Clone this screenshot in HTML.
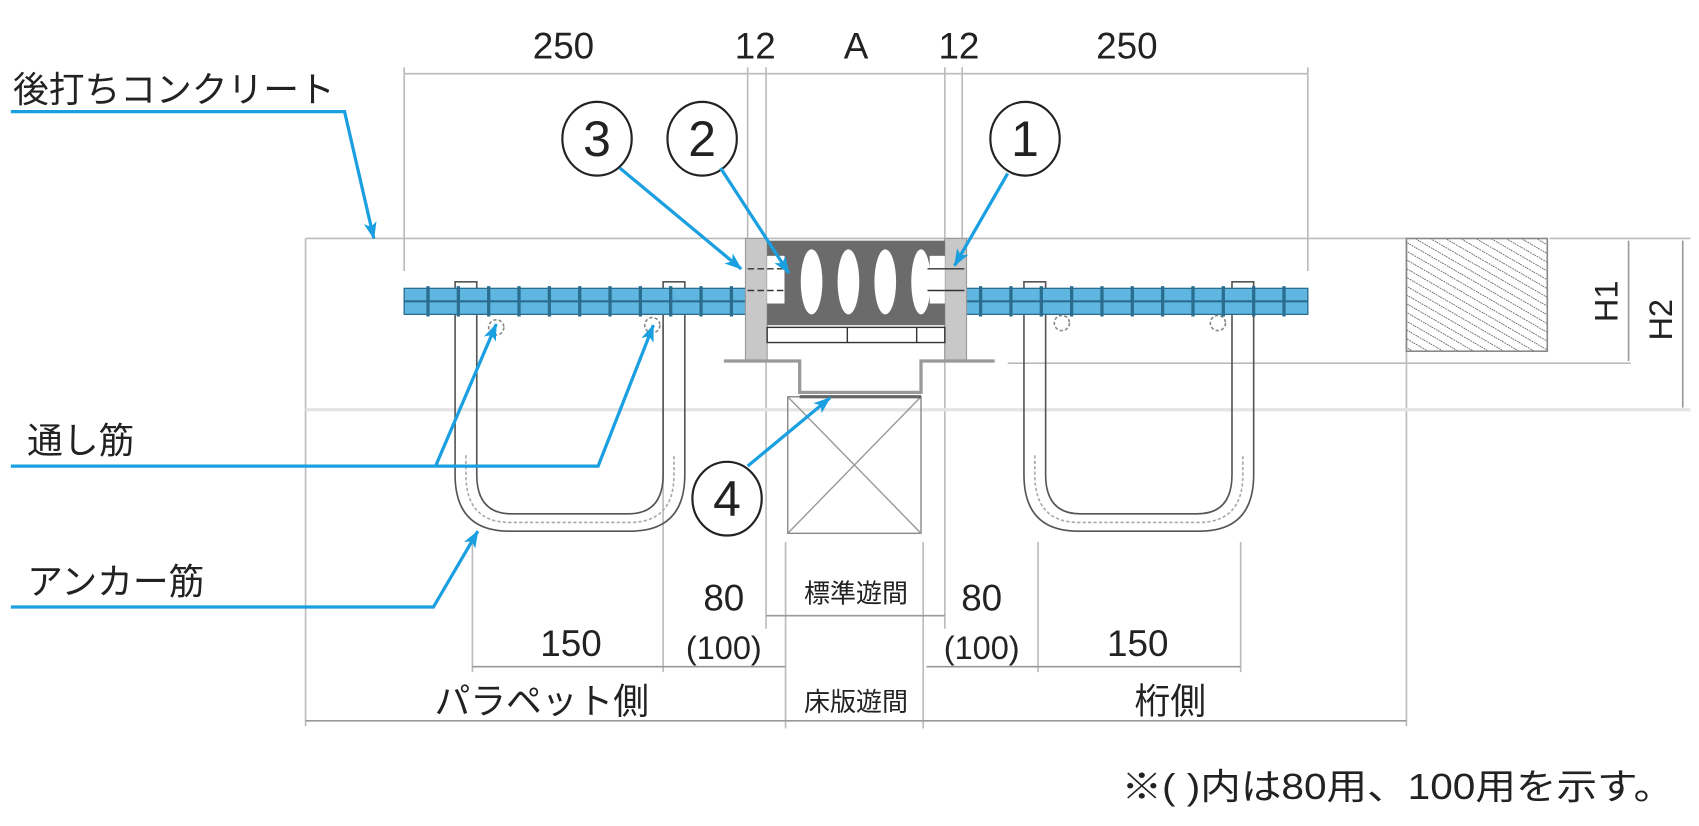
<!DOCTYPE html>
<html><head><meta charset="utf-8"><style>
html,body{margin:0;padding:0;background:#fff}
svg{display:block}
text{font-family:"Liberation Sans","Noto Sans CJK JP",sans-serif;fill:#222}
</style></head><body>
<svg width="1699" height="826" viewBox="0 0 1568 762" preserveAspectRatio="none" xmlns="http://www.w3.org/2000/svg">
<defs>
<pattern id="h" width="7" height="7" patternUnits="userSpaceOnUse" patternTransform="rotate(-60)">
<line x1="0" y1="0" x2="0" y2="7" stroke="#555" stroke-width="1.6" stroke-dasharray="1.5 1"/>
</pattern>
<marker id="ar" markerWidth="16" markerHeight="14" refX="15" refY="7" orient="auto" markerUnits="userSpaceOnUse"><path d="M0,1 L16,7 L0,13 L4,7 z" fill="#1a9fe0"/></marker>
</defs>
<g stroke="#bbb" stroke-width="1.5" fill="none">
<line x1="373" y1="68" x2="1207" y2="68"/>
<line x1="373" y1="62" x2="373" y2="250"/>
<line x1="690" y1="62" x2="690" y2="220"/>
<line x1="707" y1="62" x2="707" y2="580"/>
<line x1="872" y1="62" x2="872" y2="580"/>
<line x1="888" y1="62" x2="888" y2="220"/>
<line x1="1207" y1="62" x2="1207" y2="250"/>
<line x1="282" y1="220" x2="1298" y2="220"/>
<line x1="282" y1="220" x2="282" y2="670"/>
<line x1="1298" y1="220" x2="1298" y2="670"/>
<line x1="282" y1="378" x2="1560" y2="378" stroke="#e4e4e4" stroke-width="3"/>
<line x1="930" y1="335" x2="1505" y2="335"/>
<line x1="1430" y1="220" x2="1560" y2="220"/>
<line x1="1503" y1="222" x2="1503" y2="333" stroke="#999"/>
<line x1="1553" y1="222" x2="1553" y2="376" stroke="#999"/>
<line x1="436" y1="500" x2="436" y2="620"/>
<line x1="612" y1="300" x2="612" y2="620"/>
<line x1="725" y1="500" x2="725" y2="672"/>
<line x1="852" y1="500" x2="852" y2="672"/>
<line x1="958" y1="500" x2="958" y2="620"/>
<line x1="1145" y1="500" x2="1145" y2="620"/>
<line x1="707" y1="568" x2="872" y2="568" stroke="#999"/>
<line x1="436" y1="615" x2="725" y2="615" stroke="#999"/>
<line x1="855" y1="615" x2="1145" y2="615" stroke="#999"/>
<line x1="282" y1="665" x2="1298" y2="665" stroke="#999"/>
</g>
<rect x="1298" y="220" width="130" height="104" fill="url(#h)" stroke="#888" stroke-width="1.5"/>
<g fill="none" stroke="#555" stroke-width="1.5">
<path d="M420,260 V438 Q420,490 470,490 H582 Q632,490 632,438 V260 H612 V438 Q612,474 580,474 H472 Q440,474 440,438 V260 Z"/>
<path d="M945,260 V438 Q945,490 995,490 H1107 Q1157,490 1157,438 V260 H1137 V438 Q1137,474 1105,474 H997 Q965,474 965,438 V260 Z"/>
<path d="M430,420 V438 Q430,482 471,482 H581 Q622,482 622,438 V420" stroke="#aaa" stroke-dasharray="3 2"/>
<path d="M955,420 V438 Q955,482 996,482 H1106 Q1147,482 1147,438 V420" stroke="#aaa" stroke-dasharray="3 2"/>
<circle cx="458" cy="302" r="7" stroke="#888" stroke-dasharray="3 2"/>
<circle cx="602" cy="300" r="7" stroke="#888" stroke-dasharray="3 2"/>
<circle cx="980" cy="298" r="7" stroke="#888" stroke-dasharray="3 2"/>
<circle cx="1124" cy="298" r="7" stroke="#888" stroke-dasharray="3 2"/>
</g>
<g>
<rect x="373" y="266" width="317" height="24" fill="#5fb6e0" stroke="#2a6d8f" stroke-width="1.2"/>
<rect x="890" y="266" width="317" height="24" fill="#5fb6e0" stroke="#2a6d8f" stroke-width="1.2"/>
<line x1="373" y1="278" x2="690" y2="278" stroke="#2a6d8f" stroke-width="2"/>
<line x1="890" y1="278" x2="1207" y2="278" stroke="#2a6d8f" stroke-width="2"/>
<g stroke="#2a6d8f" stroke-width="3">
<path d="M395,264V292M423,264V292M451,264V292M479,264V292M507,264V292M535,264V292M563,264V292M591,264V292M619,264V292M647,264V292M675,264V292"/>
<path d="M905,264V292M933,264V292M961,264V292M989,264V292M1017,264V292M1045,264V292M1073,264V292M1101,264V292M1129,264V292M1157,264V292M1185,264V292"/>
</g>
</g>
<rect x="688" y="220" width="20" height="113" fill="#c8c8c8" stroke="#999"/>
<rect x="872" y="220" width="20" height="113" fill="#c8c8c8" stroke="#999"/>
<rect x="708" y="222" width="164" height="78" fill="#6b6b6b"/>
<g fill="#fff">
<ellipse cx="749" cy="260" rx="10" ry="30"/><ellipse cx="783" cy="260" rx="10" ry="30"/>
<ellipse cx="817" cy="260" rx="10" ry="30"/><ellipse cx="850" cy="260" rx="9" ry="30"/>
<rect x="708" y="236" width="16" height="44"/><rect x="858" y="236" width="14" height="44"/>
</g>
<g stroke="#333" stroke-width="1.3" fill="none">
<line x1="690" y1="248" x2="724" y2="248" stroke-dasharray="6 3"/><line x1="690" y1="268" x2="724" y2="268" stroke-dasharray="6 3"/>
<line x1="856" y1="248" x2="890" y2="248"/><line x1="856" y1="268" x2="890" y2="268"/>
<rect x="708" y="302" width="164" height="14"/>
<line x1="782" y1="302" x2="782" y2="316"/><line x1="846" y1="302" x2="846" y2="316"/>
<path d="M668,333 H738 V362 H850 V333 H918" stroke="#999" stroke-width="3"/>
<rect x="727" y="366" width="123" height="126" stroke="#888"/>
<path d="M727,366 L850,492 M850,366 L727,492" stroke="#999"/>
<line x1="738" y1="366" x2="850" y2="366" stroke="#666" stroke-width="3"/>
</g>
<g fill="#fff" stroke="#222" stroke-width="2">
<ellipse cx="551" cy="128" rx="32" ry="34"/><ellipse cx="648" cy="128" rx="32" ry="34"/>
<ellipse cx="946" cy="128" rx="32" ry="34"/><ellipse cx="671" cy="460" rx="32" ry="34"/>
</g>
<g font-size="46" text-anchor="middle">
<text x="551" y="144">3</text><text x="648" y="144">2</text><text x="946" y="144">1</text><text x="671" y="476">4</text>
</g>
<g stroke="#1a9fe0" stroke-width="3" fill="none">
<polyline points="10,103 318,103 345,220" marker-end="url(#ar)"/>
<line x1="572" y1="155" x2="684" y2="248" marker-end="url(#ar)"/>
<line x1="665" y1="155" x2="728" y2="252" marker-end="url(#ar)"/>
<line x1="930" y1="160" x2="881" y2="245" marker-end="url(#ar)"/>
<line x1="690" y1="430" x2="766" y2="367" marker-end="url(#ar)"/>
<polyline points="10,430 552,430 603,300" marker-end="url(#ar)"/>
<line x1="402" y1="430" x2="458" y2="299" marker-end="url(#ar)"/>
<polyline points="10,560 400,560 441,490" marker-end="url(#ar)"/>
</g>
<g font-size="34" text-anchor="middle">
<text x="520" y="54">250</text><text x="697" y="54">12</text><text x="790" y="54">A</text>
<text x="885" y="54">12</text><text x="1040" y="54">250</text>
<text x="668" y="563">80</text><text x="906" y="563">80</text>
<text x="527" y="605">150</text><text x="1050" y="605">150</text>
</g>
<g font-size="30" text-anchor="middle">
<text x="668" y="608">(100)</text><text x="906" y="608">(100)</text>
</g>
<g font-size="33">
<text x="12" y="94">後打ちコンクリート</text>
<text x="25" y="418">通し筋</text>
<text x="25" y="548">アンカー筋</text>
</g>
<g font-size="33" text-anchor="middle">
<text x="500" y="658">パラペット側</text><text x="1080" y="658">桁側</text>
</g>
<g font-size="24" text-anchor="middle">
<text x="790" y="556">標準遊間</text><text x="790" y="656">床版遊間</text>
</g>
<text x="1545" y="737" font-size="33" text-anchor="end" textLength="510" lengthAdjust="spacingAndGlyphs">※( )内は80用、100用を示す。</text>
<text font-size="30" transform="translate(1493,278) rotate(-90)" text-anchor="middle">H1</text>
<text font-size="30" transform="translate(1543,295) rotate(-90)" text-anchor="middle">H2</text>
</svg>
</body></html>
